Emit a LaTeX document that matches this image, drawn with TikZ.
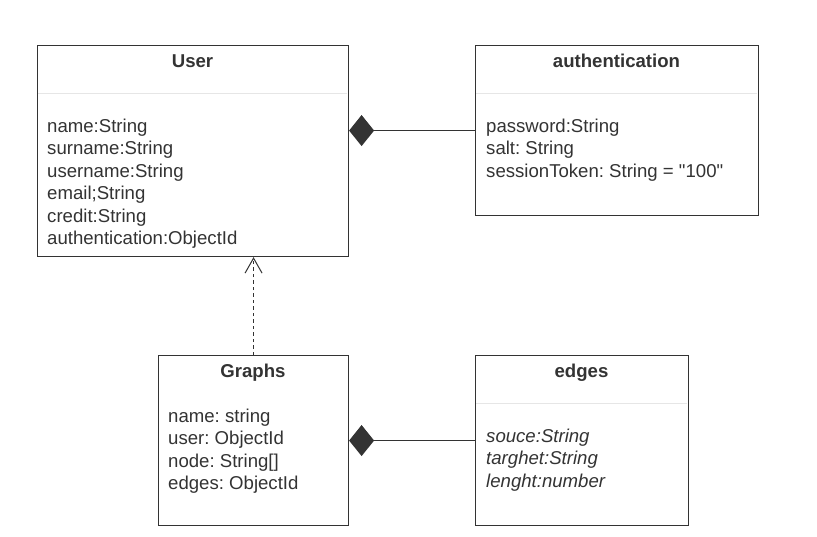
\documentclass[tikz,border=0pt]{standalone}
\usepackage{fontspec}
\setmainfont{Liberation Sans}[Ligatures=TeXOff]
\frenchspacing
\usetikzlibrary{arrows.meta}
\definecolor{ink}{HTML}{333333}
\definecolor{sep}{HTML}{E6E6E6}
\tikzset{
  classbox/.style={draw=ink, line width=1.1pt, fill=white, inner sep=0pt, anchor=north west},
  title/.style={font=\fontsize{18.6pt}{22.5pt}\selectfont\bfseries, text=ink, inner sep=0pt, anchor=base},
  attr/.style={font=\fontsize{18.6pt}{22.5pt}\selectfont, text=ink, inner sep=0pt, anchor=base west, align=left},
  sepline/.style={draw=sep, line width=1pt},
  comp/.style={draw=ink, line width=1.1pt, -{Diamond[length=25pt, width=31pt, fill=ink]}},
  dep/.style={draw=ink, line width=1pt, dash pattern=on 3.5pt off 3pt, -{Straight Barb[length=15pt, width=17pt, line width=1pt]}}
}
\begin{document}
\begin{tikzpicture}[x=1pt, y=-1pt]
\fill[white] (0,0) rectangle (817,536);
\useasboundingbox (0,0) rectangle (817,536);

% User
\node[classbox, minimum width=311pt, minimum height=211pt] (User) at (37,45) {};
\draw[sepline] (38,93) coordinate (us1) -- (347,93) coordinate (us2);
\node[title] (Utitle) at (192.5,67) {User};
\node[attr] (Uattr) at (47,244.5) {name:String\\surname:String\\username:String\\email;String\\credit:String\\authentication:ObjectId};

% authentication
\node[classbox, minimum width=283pt, minimum height=170pt] (auth) at (475,45) {};
\draw[sepline] (476,93) coordinate (as1) -- (757,93) coordinate (as2);
\node[title] (Atitle) at (616.5,67) {authentication};
\node[attr] (Aattr) at (486,177) {password:String\\salt: String\\sessionToken: String = "100"};

% Graphs
\node[classbox, minimum width=190pt, minimum height=170pt] (Graphs) at (158,355) {};
\node[title] (Gtitle) at (253,377) {Graphs};
\node[attr] (Gattr) at (168,489.5) {name: string\\user: ObjectId\\node: String[]\\edges: ObjectId};

% edges
\node[classbox, minimum width=213pt, minimum height=170pt] (edges) at (475,355) {};
\draw[sepline] (476,403) coordinate (es1) -- (687,403) coordinate (es2);
\node[title] (Etitle) at (581.5,377) {edges};
\node[attr, font=\fontsize{18.6pt}{22.5pt}\selectfont\itshape] (Eattr) at (486,487) {souce:String\\targhet:String\\lenght:number};

% connectors
\draw[comp] (auth.west) -- (auth.west -| User.east);
\draw[comp] (edges.west) -- (edges.west -| Graphs.east);
\draw[dep] (Graphs.north) -- (Graphs.north |- User.south);
\end{tikzpicture}
\end{document}
